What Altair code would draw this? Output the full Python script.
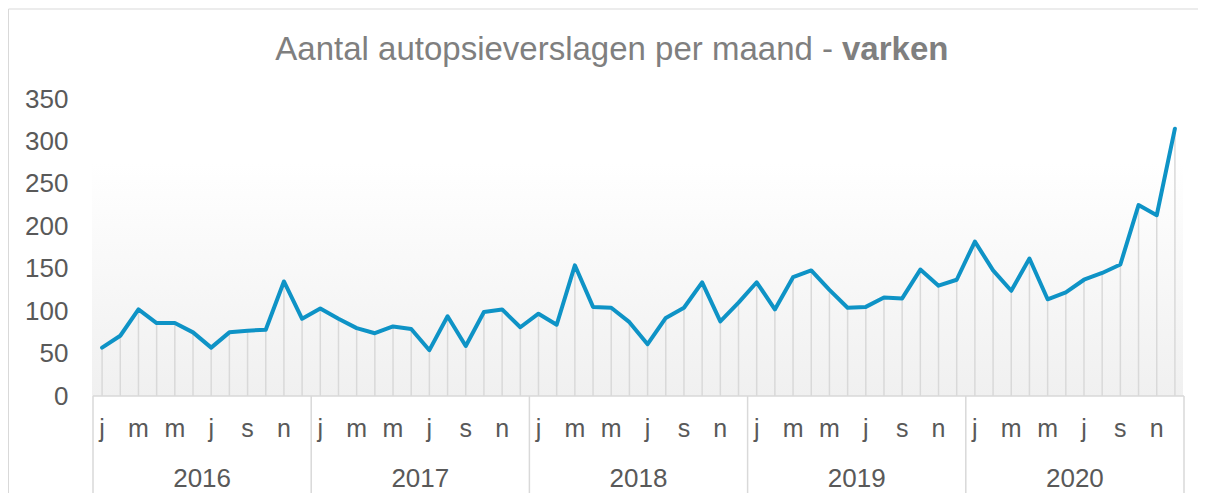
import altair as alt
import pandas as pd

# ---- data ----
years = [2016, 2017, 2018, 2019, 2020]
month_letters = ["j", "f", "m", "a", "m", "j", "j", "a", "s", "o", "n", "d"]
values_2016 = [57, 71, 102, 86, 86, 75, 57, 75, 77, 78, 135, 91]
values_2017 = [103, 91, 80, 74, 82, 79, 54, 94, 59, 99, 102, 81]
values_2018 = [97, 84, 154, 105, 104, 87, 61, 92, 104, 134, 88, 110]
values_2019 = [134, 102, 140, 148, 125, 104, 105, 116, 115, 149, 130, 137]
values_2020 = [182, 148, 124, 162, 114, 122, 137, 145, 155, 225, 213, 315]
y_ticks = [0, 50, 100, 150, 200, 250, 300, 350]
title_main = "Aantal autopsieverslagen per maand -"
title_bold = "varken"

all_values = values_2016 + values_2017 + values_2018 + values_2019 + values_2020
df = pd.DataFrame({
    "idx": list(range(len(all_values))),
    "value": all_values,
    "month": month_letters * len(years),
    "year": [y for y in years for _ in range(12)],
})
month_df = df[df["idx"] % 2 == 0]
year_df = pd.DataFrame({"year": [str(y) for y in years],
                        "center": [12 * k + 5.5 for k in range(len(years))]})
sep_df = pd.DataFrame({"pos": [12 * k - 0.5 for k in range(len(years) + 1)]})
one = pd.DataFrame({"a": [0]})

W, H = 1091, 297
FONT = "Liberation Sans"
GRID = "#d9d9d9"
LABEL = "#595959"

xs = alt.Scale(domain=[-0.5, 59.5], nice=False, zero=False)
ys = alt.Scale(domain=[0, 350], nice=False, zero=True)

frame = alt.Chart(one).mark_rect(fill="transparent", stroke=GRID, strokeWidth=1).encode(
    x=alt.value(-84.5), x2=alt.value(W + 40), y=alt.value(-90), y2=alt.value(H + 140)
)

bg = alt.Chart(one).mark_rect(
    color=alt.Gradient(
        gradient="linear",
        stops=[alt.GradientStop(color="#ffffff", offset=0),
               alt.GradientStop(color="#f0f0f0", offset=1)],
        x1=0, x2=0, y1=0, y2=1,
    )
).encode(
    x=alt.value(-1), x2=alt.value(W - 1),
    y=alt.datum(275, type="quantitative", scale=ys), y2=alt.datum(0),
)

base = alt.Chart(df)

drops = base.mark_rule(color=GRID, strokeWidth=1.5).encode(
    x=alt.X("idx:Q", scale=xs, axis=None),
    y=alt.Y("value:Q", scale=ys,
            axis=alt.Axis(values=y_ticks, domain=False, ticks=False, grid=False,
                          labelPadding=25, labelFont=FONT, labelFontSize=26,
                          labelColor=LABEL, title=None)),
    y2=alt.datum(0),
)

axis_line = alt.Chart(one).mark_rule(color=GRID, strokeWidth=1.5).encode(
    x=alt.value(0), x2=alt.value(W), y=alt.value(H)
)

seps = alt.Chart(sep_df).mark_rule(color=GRID, strokeWidth=1.5).encode(
    x=alt.X("pos:Q", scale=xs), y=alt.value(H), y2=alt.value(H + 140)
)

line = base.mark_line(color="#0E93C6", strokeWidth=4, strokeJoin="round",
                      strokeCap="round").encode(
    x=alt.X("idx:Q", scale=xs), y=alt.Y("value:Q", scale=ys)
)

months = alt.Chart(month_df).mark_text(
    font=FONT, fontSize=25, color=LABEL, baseline="alphabetic", align="center"
).encode(x=alt.X("idx:Q", scale=xs), y=alt.value(H + 41), text="month:N")

year_text = alt.Chart(year_df).mark_text(
    font=FONT, fontSize=26, color=LABEL, baseline="alphabetic", align="center"
).encode(x=alt.X("center:Q", scale=xs), y=alt.value(H + 91), text="year:N")

t1 = alt.Chart(one).mark_text(
    text=title_main, font=FONT, fontSize=33, color="#7f7f7f",
    align="right", baseline="alphabetic"
).encode(x=alt.value(740), y=alt.value(-39))

t2 = alt.Chart(one).mark_text(
    text=title_bold, font=FONT, fontSize=33, fontWeight="bold", color="#7f7f7f",
    align="left", baseline="alphabetic"
).encode(x=alt.value(749), y=alt.value(-39))

chart = alt.layer(
    frame, bg, drops, axis_line, seps, line, months, year_text, t1, t2
).properties(
    width=W, height=H,
    autosize=alt.AutoSizeParams(type="none"),
    padding={"left": 85, "top": 91, "right": 14, "bottom": 97},
).configure_view(stroke=None)

chart.save("out.html", embed_options={"renderer": "svg", "actions": False})
